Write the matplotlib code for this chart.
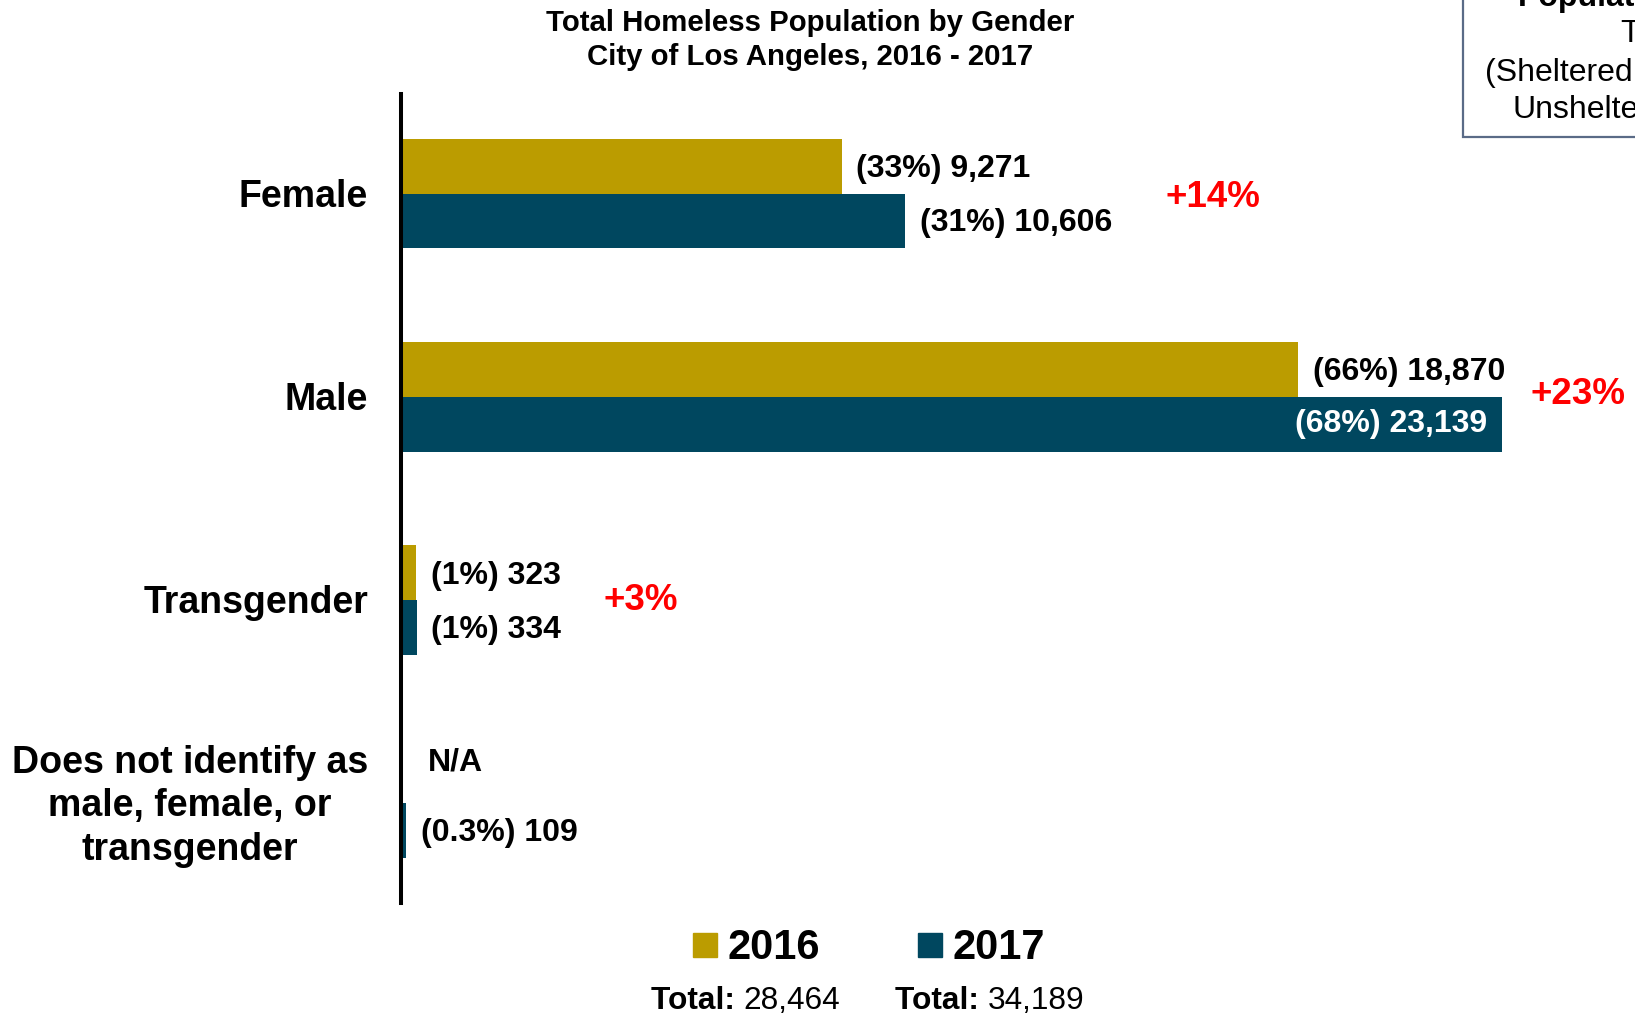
import matplotlib.pyplot as plt
from matplotlib.patches import Rectangle

plt.rcParams['font.family'] = ['Liberation Sans', 'DejaVu Sans']

# data
categories = ['Female', 'Male', 'Transgender', 'Does not identify as\nmale, female, or\ntransgender']
values_2016 = [9271, 18870, 323, None]
values_2017 = [10606, 23139, 334, 109]
pct_2016 = ['33%', '66%', '1%', None]
pct_2017 = ['31%', '68%', '1%', '0.3%']
changes = ['+14%', '+23%', '+3%', None]
totals = {'2016': '28,464', '2017': '34,189'}

color_2016 = '#BB9C00'
color_2017 = '#00475F'

fig = plt.figure(figsize=(16.35, 10.14), dpi=100)
W, H = 1635, 1014

# axes: vertical axis at x=401px, from y=94 to 903px, reaching the right edge
ax = fig.add_axes([401 / W, 1 - 903 / H, 1 - 401 / W, (903 - 94) / H])
px_per_unit = 1100.5 / 23139
ax.set_xlim(0, (W - 401) / px_per_unit)
ax.set_ylim(3.49, -0.49)

bar_h = 0.27
pos = list(range(len(categories)))
v16 = [v if v is not None else 0 for v in values_2016]
ax.barh([p - bar_h / 2 for p in pos], v16, height=bar_h, color=color_2016)
ax.barh([p + bar_h / 2 for p in pos], values_2017, height=bar_h, color=color_2017)

for s in ['top', 'right', 'bottom']:
    ax.spines[s].set_visible(False)
ax.spines['left'].set_linewidth(2.9)
ax.set_xticks([])
ax.set_yticks([])

pt = 72 / 100  # points per pixel
lab_fs = 23
dy = -3 * pt  # small downward nudge so text sits on the bar centre

for i, cat in enumerate(categories):
    ax.annotate(cat, xy=(0, i), xytext=(-33 * pt, dy), textcoords='offset points',
                ha='right', va='center', multialignment='center',
                fontsize=27, fontweight='bold', linespacing=1.27)

    # 2016 labels
    if values_2016[i] is None:
        ax.annotate('N/A', xy=(0, i - bar_h / 2), xytext=(27 * pt, 13 * pt), textcoords='offset points',
                    ha='left', va='center', fontsize=lab_fs, fontweight='bold')
    else:
        ax.annotate(f'({pct_2016[i]}) {values_2016[i]:,}', xy=(values_2016[i], i - bar_h / 2),
                    xytext=(14.5 * pt, dy), textcoords='offset points',
                    ha='left', va='center', fontsize=lab_fs, fontweight='bold')

    # 2017 labels (inside the bar for the longest one)
    txt = f'({pct_2017[i]}) {values_2017[i]:,}'
    if values_2017[i] == max(values_2017):
        ax.annotate(txt, xy=(values_2017[i], i + bar_h / 2), xytext=(-14 * pt, 0),
                    textcoords='offset points', ha='right', va='center',
                    fontsize=lab_fs, fontweight='bold', color='white')
    else:
        ax.annotate(txt, xy=(values_2017[i], i + bar_h / 2), xytext=(14.5 * pt, -2 * pt),
                    textcoords='offset points', ha='left', va='center',
                    fontsize=lab_fs, fontweight='bold')

# percentage change labels (left edge in pixels)
change_x = [1165, 1530, 603]
change_dy = [0.02, -0.01, 0.0]
for i, c in enumerate(changes):
    if c is None:
        continue
    ax.text((change_x[i] - 401) / px_per_unit, i + change_dy[i], c, ha='left', va='center',
            fontsize=26.5, fontweight='bold', color='#FF0000')

# title
fig.text(810 / W, 1 - 23 / H, 'Total Homeless Population by Gender', ha='center', va='center',
         fontsize=21.2, fontweight='bold')
fig.text(810 / W, 1 - 57 / H, 'City of Los Angeles, 2016 - 2017', ha='center', va='center',
         fontsize=21.2, fontweight='bold')

# legend
for (year, col, sq_x, txt_x, tot_x) in [('2016', color_2016, 693, 727, 651),
                                        ('2017', color_2017, 918, 952, 895)]:
    fig.patches.append(Rectangle((sq_x / W, 1 - 957 / H), 24 / W, 24 / H,
                                 transform=fig.transFigure, color=col))
    fig.text(txt_x / W, 1 - 948 / H, year, ha='left', va='center', fontsize=30, fontweight='bold')
    t = fig.text(tot_x / W, 1 - 1001 / H, 'Total: ', ha='left', va='center', fontsize=22.8,
                 fontweight='bold')
    fig.canvas.draw()
    bb = t.get_window_extent()
    fig.text(bb.x1 / W, 1 - 1001 / H, totals[year], ha='left', va='center', fontsize=22.8)

# cut-off note box in the top right corner
fig.patches.append(Rectangle((1463 / W, 1 - 137 / H), (W + 20 - 1463) / W, 140 / H,
                             transform=fig.transFigure, facecolor='white',
                             edgecolor='#5A6B87', linewidth=1.6))
fig.text(1518 / W, 1 - (-2) / H, 'Population', ha='left', va='center', fontsize=23,
         fontweight='bold')
fig.text(1620 / W, 1 - 34 / H, 'Total', ha='left', va='center', fontsize=23)
fig.text(1485 / W, 1 - 73 / H, '(Sheltered +', ha='left', va='center', fontsize=23)
fig.text(1512 / W, 1 - 110 / H, 'Unsheltered)', ha='left', va='center', fontsize=23)

fig.savefig('out.png', dpi=100)
